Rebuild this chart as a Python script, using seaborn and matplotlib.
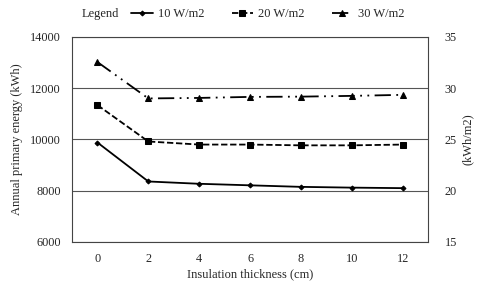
import numpy as np
import pandas as pd
import matplotlib
matplotlib.use("Agg")
import matplotlib.pyplot as plt
import seaborn as sns

thickness = [0, 2, 4, 6, 8, 10, 12]
energy_10 = [9880, 8360, 8270, 8210, 8150, 8120, 8100]
energy_20 = [11340, 9920, 9800, 9800, 9770, 9770, 9800]
energy_30 = [13020, 11600, 11620, 11660, 11670, 11700, 11740]
series_names = ["10 W/m2", "20 W/m2", "30 W/m2"]

sns.set_style("white")
plt.rcParams["font.family"] = ["Liberation Serif", "DejaVu Serif"]

df = pd.DataFrame({
    "thickness": thickness * 3,
    "energy": energy_10 + energy_20 + energy_30,
    "series": [series_names[0]] * 7 + [series_names[1]] * 7 + [series_names[2]] * 7,
})

fig = plt.figure(figsize=(4.8, 2.84), dpi=100)
ax = fig.add_axes([0.15, 0.148, 0.742, 0.722])

styles = {
    "10 W/m2": dict(marker="D", markersize=2.5, dashes=None),
    "20 W/m2": dict(marker="s", markersize=4.5, dashes=(3.5, 1.5)),
    "30 W/m2": dict(marker="^", markersize=4.5, dashes=(9, 3, 1, 3, 1, 3)),
}
for name in series_names:
    st = styles[name]
    sub = df[df["series"] == name]
    sns.lineplot(data=sub, x="thickness", y="energy", ax=ax, color="black",
                 marker=st["marker"], markersize=st["markersize"], linewidth=1.3,
                 markeredgecolor="black", label=name, legend=False)
    if st["dashes"] is not None:
        ax.lines[-1].set_dashes(st["dashes"])

ax.set_xlim(-1, 13)
ax.set_ylim(6000, 14000)
ax.set_xticks(thickness)
ax.set_yticks([6000, 8000, 10000, 12000, 14000])
ax.grid(axis="y", color="#555555", linewidth=0.8)
for s in ax.spines.values():
    s.set_color("#444444")
    s.set_linewidth(0.8)
ax.tick_params(axis="both", labelsize=8.8, length=0, pad=8)
ax.set_xlabel("Insulation thickness (cm)", fontsize=9, labelpad=2)
ax.set_ylabel("Annual primary energy (kWh)", fontsize=9, labelpad=5)

ax2 = ax.twinx()
ax2.set_ylim(15, 35)
ax2.set_yticks([15, 20, 25, 30, 35])
ax2.tick_params(axis="y", labelsize=8.8, length=0, pad=12)
ax2.set_ylabel("(kWh/m2)", fontsize=9, labelpad=3)
for s in ax2.spines.values():
    s.set_visible(False)

handles = ax.lines[:3]
fig.legend(handles, series_names, ncol=3, loc="center left", bbox_to_anchor=(0.25, 0.95),
           frameon=False, fontsize=9, handlelength=1.7, columnspacing=2.2, handletextpad=0.4)
fig.text(0.17, 0.95, "Legend", fontsize=9, va="center", ha="left")

fig.savefig("out.png", dpi=100)
